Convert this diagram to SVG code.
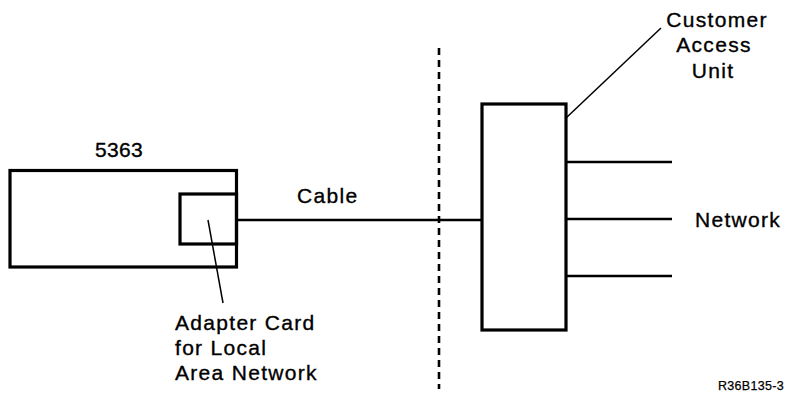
<svg xmlns="http://www.w3.org/2000/svg" width="786" height="396" viewBox="0 0 786 396">
<style>
.box{fill:none;stroke:#000;stroke-width:3.2}
.ln{fill:none;stroke:#000;stroke-width:2.5}
.lead{fill:none;stroke:#000;stroke-width:1.5}
.dash{fill:none;stroke:#000;stroke-width:2.6;stroke-dasharray:7 5}
text{font-family:"Liberation Sans",Arial,sans-serif;font-size:21px;letter-spacing:1.3px;fill:#000;stroke:#000;stroke-width:0.35}
.small{font-size:12.5px;letter-spacing:0.3px;stroke-width:0.25}
.num{letter-spacing:0.3px}
</style>
<rect width="786" height="396" fill="#fff"/>
<g id="unit5363">
<rect class="box" x="10" y="170.5" width="226.5" height="96.5"/>
<text class="num" x="95" y="157">5363</text>
</g>
<g id="adapter">
<rect class="box" x="180" y="194" width="56.5" height="50"/>
<text x="175" y="330">Adapter Card</text>
<text x="175" y="355">for Local</text>
<text x="175" y="380">Area Network</text>
</g>
<g id="cau">
<rect class="box" x="482" y="104" width="84" height="226"/>
<text x="717" y="27" text-anchor="middle">Customer</text>
<text x="714" y="52" text-anchor="middle">Access</text>
<text x="713" y="78" text-anchor="middle">Unit</text>
</g>
<g id="network">
<text x="695" y="227">Network</text>
</g>
<g id="connectors">
<line class="ln" x1="236.5" y1="220" x2="482" y2="220"/>
<line class="dash" x1="439" y1="48" x2="439" y2="389"/>
<line class="lead" x1="208" y1="220" x2="223" y2="303"/>
<line class="lead" x1="566" y1="118" x2="661" y2="28"/>
<line class="ln" x1="566" y1="162" x2="672" y2="162"/>
<line class="ln" x1="566" y1="219" x2="672" y2="219"/>
<line class="ln" x1="566" y1="276" x2="672" y2="276"/>
</g>
<text x="297" y="203">Cable</text>
<text class="small" x="718" y="390">R36B135-3</text>
</svg>
